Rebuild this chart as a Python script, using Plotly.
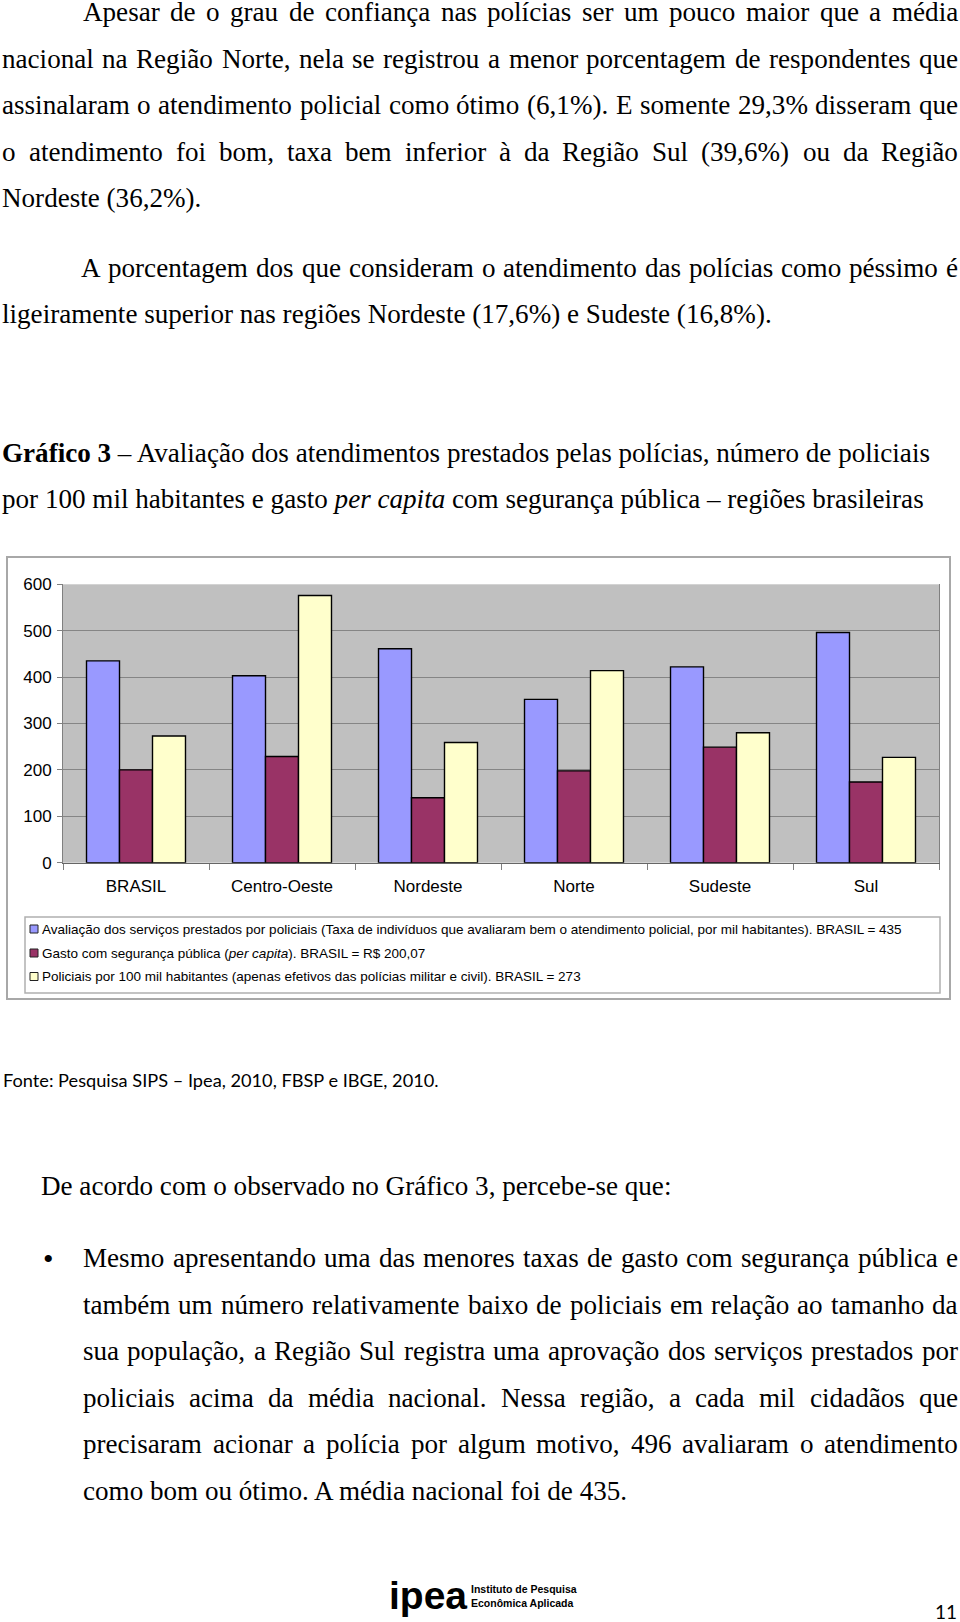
import unicodedata
import plotly.graph_objects as go

W, H = 960, 1622

# ---------------- data ----------------
categories = ["BRASIL", "Centro-Oeste", "Nordeste", "Norte", "Sudeste", "Sul"]
avaliacao = [435, 403, 461, 352, 422, 496]
gasto = [200.07, 229, 140, 198, 249, 174]
policiais = [273, 576, 259, 414, 280, 227]
y_ticks = [0, 100, 200, 300, 400, 500, 600]

series_names = [
    "Avaliação dos serviços prestados por policiais (Taxa de indivíduos que avaliaram bem o atendimento policial, por mil habitantes). BRASIL = 435",
    "Gasto com segurança pública (<i>per capita</i>). BRASIL = R$ 200,07",
    "Policiais por 100 mil habitantes (apenas efetivos das polícias militar e civil). BRASIL = 273",
]
series_plain = [
    "Avaliação dos serviços prestados por policiais (Taxa de indivíduos que avaliaram bem o atendimento policial, por mil habitantes). BRASIL = 435",
    "Gasto com segurança pública (per capita). BRASIL = R$ 200,07",
    "Policiais por 100 mil habitantes (apenas efetivos das polícias militar e civil). BRASIL = 273",
]
series_colors = ["#9999FF", "#993366", "#FFFFCC"]

para1 = [
    "Apesar de o grau de confiança nas polícias ser um pouco maior que a média",
    "nacional na Região Norte, nela se registrou a menor porcentagem de respondentes que",
    "assinalaram o atendimento policial como ótimo (6,1%). E somente 29,3% disseram que",
    "o atendimento foi bom, taxa bem inferior à da Região Sul (39,6%) ou da Região",
    "Nordeste (36,2%).",
]
para2 = [
    "A porcentagem dos que consideram o atendimento das polícias como péssimo é",
    "ligeiramente superior nas regiões Nordeste (17,6%) e Sudeste (16,8%).",
]
caption = [
    "<b>Gráfico 3</b> – Avaliação dos atendimentos prestados pelas polícias, número de policiais",
    "por 100 mil habitantes e gasto <i>per capita</i> com segurança pública – regiões brasileiras",
]
fonte = "Fonte: Pesquisa SIPS – Ipea, 2010, FBSP e IBGE, 2010."
intro = "De acordo com o observado no Gráfico 3, percebe-se que:"
bullet = [
    "Mesmo apresentando uma das menores taxas de gasto com segurança pública e",
    "também um número relativamente baixo de policiais em relação ao tamanho da",
    "sua população, a Região Sul registra uma aprovação dos serviços prestados por",
    "policiais acima da média nacional. Nessa região, a cada mil cidadãos que",
    "precisaram acionar a polícia por algum motivo, 496 avaliaram o atendimento",
    "como bom ou ótimo. A média nacional foi de 435.",
]

SERIF = "Liberation Serif, Times New Roman, serif"
SANS = "Liberation Sans, Arial, sans-serif"
NARROW = "Liberation Sans Narrow, Arial Narrow, Liberation Sans, Arial, sans-serif"
CALI = "Lato, Carlito, Calibri, Open Sans, sans-serif"

# ---------------- Times (Liberation Serif) advance widths, 1/1000 em ----------------
_T_UP = dict(zip("ABCDEFGHIJKLMNOPQRSTUVWXYZ",
                 [722, 667, 667, 722, 611, 556, 722, 722, 333, 389, 722, 611, 889,
                  722, 722, 556, 722, 667, 556, 611, 722, 722, 944, 722, 722, 611]))
_T_LO = dict(zip("abcdefghijklmnopqrstuvwxyz",
                 [444, 500, 444, 500, 444, 333, 500, 500, 278, 278, 500, 278, 778,
                  500, 500, 500, 500, 333, 389, 278, 500, 500, 722, 500, 500, 444]))
TIMES = {" ": 250, "!": 333, "%": 833, "(": 333, ")": 333, ",": 250, "-": 333, ".": 250,
         "/": 278, ":": 278, ";": 278, "=": 564, "?": 444, "$": 500, "–": 500, "•": 350}
TIMES.update(_T_UP)
TIMES.update(_T_LO)
for _d in "0123456789":
    TIMES[_d] = 500


def em_width(text, table, default=500):
    tot = 0
    for ch in text:
        if ch in table:
            tot += table[ch]
        else:
            base = unicodedata.normalize("NFD", ch)[0]
            tot += table.get(base, default)
    return tot / 1000.0


X_RIGHT = 958
body_size = 27.1


def px(x):
    return x / W


def py(y):
    return 1 - y / H


annotations = []
shapes = []


def add_text(text, x, y, size, family=SERIF, xanchor="left", color="black", weight=None):
    font = dict(family=family, size=size, color=color)
    if weight:
        font["weight"] = weight
    annotations.append(dict(
        text=text, x=px(x), y=py(y), xref="paper", yref="paper",
        xanchor=xanchor, yanchor="middle", showarrow=False,
        borderpad=0, borderwidth=0, align="left", font=font))


def add_line(text, x0, y, justify, size=None, family=SERIF):
    size = size or body_size
    if not justify:
        add_text(text, x0, y, size, family)
        return
    words = text.split(" ")
    widths = [em_width(w, TIMES) * size for w in words]
    gap = (X_RIGHT - x0 - sum(widths)) / (len(words) - 1)
    x = x0
    for w, wd in zip(words, widths):
        add_text(w, x, y, size, family)
        x += wd + gap


# paragraph 1
p1_y = [12.5, 58.9, 105.3, 151.7, 198.1]
for i, (t, y) in enumerate(zip(para1, p1_y)):
    add_line(t, 83 if i == 0 else 2, y, justify=(i < 4))
# paragraph 2
p2_y = [267.5, 313.9]
for i, (t, y) in enumerate(zip(para2, p2_y)):
    add_line(t, 81 if i == 0 else 2, y, justify=(i == 0))
# caption
for t, y in zip(caption, [452.5, 498.9]):
    add_text(t, 2, y, body_size)
# source
add_text(fonte, 3, 1080, 18.2, CALI)
# intro
add_text(intro, 41, 1185.5, body_size)
# bullet list
add_text("•", 43, 1258, 30)
b_y = [1258, 1304.5, 1351, 1397.5, 1444, 1490.5]
for i, (t, y) in enumerate(zip(bullet, b_y)):
    add_line(t, 83, y, justify=(i < 5))

# footer: logo + page number
add_text("<b>ipea</b>", 389, 1595, 39, SANS)
add_text("Instituto de Pesquisa<br>Econômica Aplicada", 471, 1596, 10.5, NARROW, weight=600)
add_text("11", 957, 1611, 19, CALI, xanchor="right")

# chart frame and legend box
shapes.append(dict(type="rect", xref="paper", yref="paper",
                   x0=px(7), x1=px(950), y0=py(999), y1=py(557),
                   line=dict(color="#A8A8A8", width=2), fillcolor="rgba(0,0,0,0)", layer="below"))
shapes.append(dict(type="rect", xref="paper", yref="paper",
                   x0=px(25), x1=px(940), y0=py(993), y1=py(917),
                   line=dict(color="#B0B0B0", width=1.5), fillcolor="rgba(0,0,0,0)", layer="below"))
leg_y = [929, 953, 976.5]
for name, col, y in zip(series_names, series_colors, leg_y):
    shapes.append(dict(type="rect", xref="paper", yref="paper",
                       x0=px(30), x1=px(38), y0=py(y + 4), y1=py(y - 4),
                       line=dict(color="#222222", width=1), fillcolor=col))
    add_text(name, 42, y, 13.5, SANS)

fig = go.Figure()
for vals, col, name in zip([avaliacao, gasto, policiais], series_colors, series_plain):
    fig.add_trace(go.Bar(
        x=categories, y=vals, name=name,
        marker=dict(color=col, line=dict(color="black", width=1.4)),
        hoverinfo="skip"))

fig.update_layout(
    width=W, height=H,
    margin=dict(l=0, r=0, t=0, b=0, autoexpand=False),
    paper_bgcolor="white",
    plot_bgcolor="#C0C0C0",
    showlegend=False,
    barmode="group",
    bargap=0.322,
    bargroupgap=0,
    annotations=annotations,
    shapes=shapes,
    xaxis=dict(
        domain=[px(63), px(939)],
        type="category",
        showgrid=False,
        showline=True, linecolor="#666666", linewidth=1.2,
        ticks="outside", tickson="boundaries", ticklen=6, tickcolor="#808080",
        tickfont=dict(family=SANS, size=17, color="black"),
        ticklabelstandoff=8,
        fixedrange=True,
    ),
    yaxis=dict(
        domain=[py(862.7), py(584.3)],
        range=[0, 600],
        tickvals=y_ticks,
        ticktext=[str(v) for v in y_ticks],
        showgrid=True, gridcolor="#858585", gridwidth=1,
        zeroline=False,
        showline=True, linecolor="#808080", linewidth=1, mirror=True,
        ticks="outside", ticklen=5, tickcolor="#808080",
        tickfont=dict(family=SANS, size=17, color="black"),
        ticklabelstandoff=2,
        fixedrange=True,
    ),
)

fig.write_html(
    "out.html",
    config={"displayModeBar": False, "staticPlot": False},
    post_script="document.body.style.margin='0px';document.body.style.padding='0px';",
)
